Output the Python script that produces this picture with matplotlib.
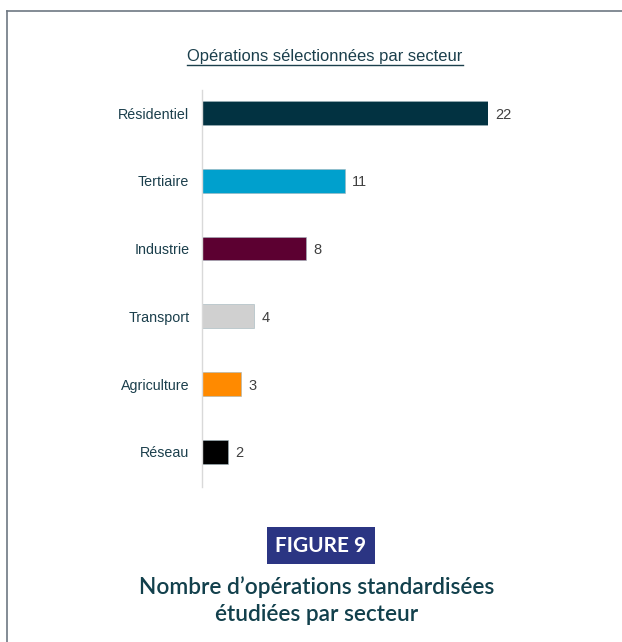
import matplotlib
matplotlib.use("Agg")
import matplotlib.pyplot as plt
from matplotlib.lines import Line2D
from matplotlib.patches import Rectangle

# Data
sectors = ["Résidentiel", "Tertiaire", "Industrie", "Transport", "Agriculture", "Réseau"]
counts = [22, 11, 8, 4, 3, 2]
bar_colors = ["#023241", "#00A0CD", "#5C0031", "#D0D0D0", "#FF8A00", "#000000"]

chart_title = "Opérations sélectionnées par secteur"
figure_tag = "FIGURE 9"
caption = "Nombre d’opérations standardisées\nétudiées par secteur"

W, H = 622, 642
fig = plt.figure(figsize=(W / 100, H / 100), dpi=100)
fig.patch.set_facecolor("white")

# Frame lines (top and left)
frame_col = "#6E7883"
fig.add_artist(Line2D([7 / W, 1.0], [1 - 11 / H, 1 - 11 / H], color=frame_col, lw=1.2))
fig.add_artist(Line2D([7 / W, 7 / W], [0.0, 1 - 11 / H], color=frame_col, lw=1.2))

# Bar chart axes
ax = fig.add_axes([202 / W, 1 - 487 / H, (488 - 202) / W, (487 - 90) / H])
ypos = list(range(len(sectors)))
ax.barh(ypos, counts, height=0.35, color=bar_colors, edgecolor="#9fb4bb", linewidth=0.4)
ax.set_xlim(0, 22)
ax.set_ylim(5.52, -0.34)
ax.set_yticks(ypos)
ax.set_yticklabels(sectors, fontsize=10.3, color="#1B3F4C", family="Liberation Sans")
for lbl in ax.get_yticklabels():
    lbl.set_verticalalignment("center_baseline")
ax.tick_params(axis="y", length=0, pad=9)
ax.set_xticks([])
for s in ["top", "right", "bottom"]:
    ax.spines[s].set_visible(False)
ax.spines["left"].set_color("#D9D9D9")
ax.spines["left"].set_linewidth(1.0)
ax.set_facecolor("none")

for y, v in zip(ypos, counts):
    ax.text(v + 0.55, y, str(v), va="center_baseline", ha="left", fontsize=10.5,
            color="#404040", family="Liberation Sans", clip_on=False)

# Underlined chart title
t = fig.text(325 / W, 1 - 56 / H, chart_title, ha="center", va="center",
             fontsize=11.9, color="#1B3F4C", family="Liberation Sans")
fig.canvas.draw()
bb = t.get_window_extent(renderer=fig.canvas.get_renderer())
uy = (bb.y0 - 1.0) / H
fig.add_artist(Line2D([bb.x0 / W, bb.x1 / W], [uy, uy], color="#1B3F4C", lw=1.0))

# Figure tag box
fig.add_artist(Rectangle((267 / W, 1 - 564 / H), (375 - 267) / W, (564 - 527) / H,
                         transform=fig.transFigure, facecolor="#2B3583", edgecolor="none"))
fig.text(321 / W, 1 - 545.5 / H, figure_tag, ha="center", va="center", fontsize=15,
         fontweight="bold", color="white", family="Lato")

# Caption
fig.text(317 / W, 1 - 600.5 / H, caption, ha="center", va="center", fontsize=16.3,
         fontweight="semibold", color="#12404C", family="Lato", linespacing=1.32)

fig.savefig("out.png", dpi=100, facecolor="white")
